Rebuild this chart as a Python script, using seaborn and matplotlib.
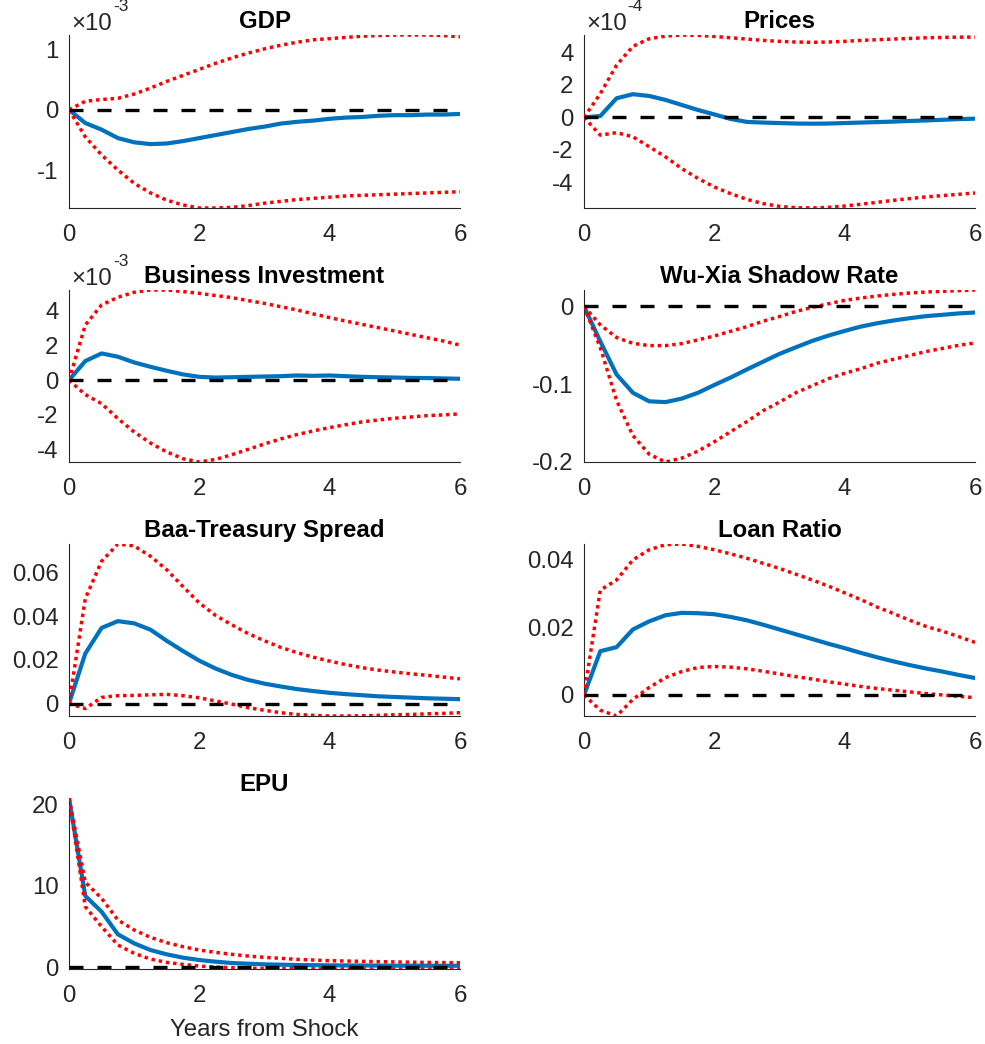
import numpy as np
import pandas as pd
import matplotlib
matplotlib.use("Agg")
import matplotlib.pyplot as plt
from matplotlib.ticker import FixedLocator, FuncFormatter
import seaborn as sns

# Horizon in years (quarterly steps)
years = np.arange(25) * 0.25

# GDP (units of 1e-3)
gdp_scale = 1e-3
gdp_med = [0, -0.22, -0.33, -0.47, -0.54, -0.57, -0.56, -0.52, -0.47, -0.42, -0.37, -0.32,
           -0.28, -0.23, -0.20, -0.18, -0.15, -0.13, -0.12, -0.10, -0.09, -0.09, -0.08, -0.08, -0.07]
gdp_hi = [0, 0.14, 0.17, 0.19, 0.26, 0.36, 0.47, 0.57, 0.67, 0.77, 0.86, 0.94,
          1.01, 1.07, 1.12, 1.16, 1.18, 1.20, 1.22, 1.23, 1.24, 1.24, 1.24, 1.23, 1.21]
gdp_lo = [0, -0.45, -0.75, -1.00, -1.22, -1.38, -1.50, -1.58, -1.63, -1.63, -1.62, -1.59,
          -1.55, -1.52, -1.49, -1.47, -1.45, -1.43, -1.42, -1.41, -1.40, -1.39, -1.38, -1.37, -1.36]

# Prices (units of 1e-4)
prices_scale = 1e-4
prices_med = [0, 0.08, 1.17, 1.42, 1.31, 1.07, 0.76, 0.45, 0.18, -0.10, -0.28, -0.32,
              -0.35, -0.38, -0.39, -0.38, -0.35, -0.32, -0.29, -0.26, -0.22, -0.19, -0.15, -0.11, -0.08]
prices_hi = [0, 1.45, 3.20, 4.35, 4.82, 4.98, 5.05, 5.03, 4.96, 4.88, 4.80, 4.72,
             4.66, 4.62, 4.60, 4.62, 4.66, 4.72, 4.76, 4.80, 4.84, 4.88, 4.90, 4.92, 4.92]
prices_lo = [0, -1.09, -0.94, -1.19, -1.80, -2.42, -3.14, -3.75, -4.27, -4.68, -5.03, -5.29,
             -5.46, -5.54, -5.56, -5.52, -5.44, -5.33, -5.21, -5.09, -4.98, -4.88, -4.80, -4.72, -4.64]

# Business investment (units of 1e-3)
inv_scale = 1e-3
inv_med = [0, 1.10, 1.54, 1.35, 1.02, 0.77, 0.54, 0.33, 0.19, 0.15, 0.17, 0.19,
           0.21, 0.23, 0.27, 0.25, 0.27, 0.23, 0.19, 0.17, 0.15, 0.13, 0.12, 0.10, 0.08]
inv_hi = [0, 3.17, 4.33, 4.77, 5.06, 5.19, 5.19, 5.10, 5.00, 4.87, 4.75, 4.58,
          4.42, 4.23, 4.04, 3.81, 3.60, 3.40, 3.21, 3.02, 2.83, 2.63, 2.44, 2.25, 2.02]
inv_lo = [0, -0.83, -1.35, -2.21, -2.98, -3.62, -4.13, -4.52, -4.71, -4.56, -4.29, -3.98,
          -3.67, -3.38, -3.13, -2.92, -2.73, -2.56, -2.40, -2.29, -2.19, -2.12, -2.04, -2.00, -1.94]

# Wu-Xia shadow rate
wx_med = [0, -0.045, -0.0875, -0.111, -0.122, -0.123, -0.1185, -0.111, -0.101, -0.0914, -0.081, -0.071,
          -0.061, -0.0526, -0.0444, -0.0375, -0.0315, -0.0259, -0.0216, -0.0181, -0.0151, -0.0125,
          -0.0108, -0.009, -0.0078]
wx_hi = [0, -0.0237, -0.040, -0.0474, -0.0504, -0.0504, -0.0478, -0.043, -0.038, -0.032, -0.026, -0.019,
         -0.013, -0.0065, -0.0013, 0.0034, 0.0078, 0.0108, 0.0134, 0.0155, 0.0172, 0.0185, 0.0194,
         0.0203, 0.0211]
wx_lo = [0, -0.053, -0.121, -0.166, -0.190, -0.200, -0.195, -0.186, -0.174, -0.161, -0.148, -0.134,
         -0.123, -0.111, -0.102, -0.093, -0.086, -0.080, -0.073, -0.068, -0.063, -0.058, -0.054,
         -0.050, -0.047]

# Baa-Treasury spread
baa_med = [0, 0.0229, 0.0346, 0.0377, 0.0367, 0.0338, 0.0287, 0.0240, 0.0196, 0.0160, 0.0131, 0.0108,
           0.0091, 0.0078, 0.0066, 0.0057, 0.0049, 0.0043, 0.0038, 0.0033, 0.0030, 0.0027, 0.0024,
           0.0022, 0.0020]
baa_hi = [0, 0.0480, 0.0651, 0.0730, 0.0721, 0.0674, 0.0612, 0.0535, 0.0460, 0.0403, 0.0360, 0.0320,
          0.0287, 0.0257, 0.0233, 0.0212, 0.0194, 0.0178, 0.0164, 0.0153, 0.0144, 0.0136, 0.0129,
          0.0121, 0.0113]
baa_lo = [0, -0.0023, 0.0028, 0.0036, 0.0037, 0.0040, 0.0042, 0.0036, 0.0026, 0.0012, -0.0003, -0.0019,
          -0.0031, -0.0042, -0.0050, -0.0054, -0.0057, -0.0057, -0.0056, -0.0054, -0.0051, -0.0050,
          -0.0047, -0.0045, -0.0042]

# Loan ratio
loan_med = [0, 0.0129, 0.0141, 0.0193, 0.0217, 0.0235, 0.0242, 0.0241, 0.0238, 0.0230, 0.0220, 0.0207,
            0.0193, 0.0179, 0.0165, 0.0151, 0.0138, 0.0124, 0.0111, 0.0099, 0.0088, 0.0078, 0.0069,
            0.0059, 0.0050]
loan_hi = [0, 0.0309, 0.0339, 0.0398, 0.0428, 0.0443, 0.0445, 0.0438, 0.0428, 0.0416, 0.0403, 0.0388,
           0.0373, 0.0356, 0.0339, 0.0321, 0.0301, 0.0281, 0.0259, 0.0240, 0.0220, 0.0202, 0.0188,
           0.0172, 0.0155]
loan_lo = [0, -0.0045, -0.0062, -0.0013, 0.0022, 0.0051, 0.0069, 0.0081, 0.0084, 0.0082, 0.0077, 0.0070,
           0.0062, 0.0054, 0.0047, 0.0039, 0.0032, 0.0025, 0.0019, 0.0014, 0.0009, 0.0004, 0.0000,
           -0.0004, -0.0008]

# Economic policy uncertainty
epu_med = [20.8, 8.77, 6.84, 4.06, 2.95, 2.13, 1.60, 1.19, 0.90, 0.70, 0.53, 0.45,
           0.37, 0.33, 0.29, 0.27, 0.25, 0.24, 0.23, 0.22, 0.21, 0.21, 0.20, 0.20, 0.20]
epu_hi = [20.8, 10.45, 8.48, 5.82, 4.59, 3.69, 3.03, 2.54, 2.13, 1.84, 1.60, 1.39,
          1.23, 1.11, 0.98, 0.90, 0.82, 0.78, 0.74, 0.70, 0.67, 0.64, 0.61, 0.59, 0.57]
epu_lo = [20.8, 7.46, 5.00, 2.75, 1.72, 1.02, 0.61, 0.37, 0.16, 0.04, -0.04, -0.10,
          -0.13, -0.15, -0.17, -0.18, -0.19, -0.19, -0.20, -0.20, -0.20, -0.20, -0.20, -0.20, -0.20]

# name, median, lower, upper, scale, y ticks (in scaled units), exponent label
panels = [
    ("GDP", gdp_med, gdp_lo, gdp_hi, gdp_scale, [-1, 0, 1], "-3"),
    ("Prices", prices_med, prices_lo, prices_hi, prices_scale, [-4, -2, 0, 2, 4], "-4"),
    ("Business Investment", inv_med, inv_lo, inv_hi, inv_scale, [-4, -2, 0, 2, 4], "-3"),
    ("Wu-Xia Shadow Rate", wx_med, wx_lo, wx_hi, 1.0, [-0.2, -0.1, 0], None),
    ("Baa-Treasury Spread", baa_med, baa_lo, baa_hi, 1.0, [0, 0.02, 0.04, 0.06], None),
    ("Loan Ratio", loan_med, loan_lo, loan_hi, 1.0, [0, 0.02, 0.04], None),
    ("EPU", epu_med, epu_lo, epu_hi, 1.0, [0, 10, 20], None),
]

sns.set_style("white")
plt.rcParams["font.family"] = ["Liberation Sans", "DejaVu Sans"]
plt.rcParams["axes.unicode_minus"] = False

INK = "#262626"
BLUE = "#0072BD"
FS = 17.3

W, H = 985, 1044
fig = plt.figure(figsize=(W / 100, H / 100), dpi=100)

col_left = [69, 584]
col_width = 391
row_span = [(35, 208), (290, 462), (544, 716), (798, 969)]

for i, (name, med, lo, hi, scale, ticks, expo) in enumerate(panels):
    r, c = divmod(i, 2)
    top, bot = row_span[r]
    ax = fig.add_axes([col_left[c] / W, 1 - bot / H, col_width / W, (bot - top) / H])

    df = pd.DataFrame({
        "year": years,
        "median": np.asarray(med) * scale,
        "lower": np.asarray(lo) * scale,
        "upper": np.asarray(hi) * scale,
    })

    sns.lineplot(data=df, x="year", y="median", ax=ax, color=BLUE, linewidth=3.0,
                 errorbar=None, zorder=2)
    for band in ("lower", "upper"):
        sns.lineplot(data=df, x="year", y=band, ax=ax, color="red", linewidth=2.5,
                     linestyle=(0, (1, 1.1)), errorbar=None, zorder=3)
    ax.axhline(0, color="black", linewidth=2.4, linestyle=(0, (4.2, 4.2)), zorder=4)

    ymin = min(df[["median", "lower", "upper"]].min())
    ymax = max(df[["median", "lower", "upper"]].max())
    ax.set_xlim(0, 6)
    ax.set_ylim(ymin, ymax)

    ax.xaxis.set_major_locator(FixedLocator([0, 2, 4, 6]))
    ax.yaxis.set_major_locator(FixedLocator([t * scale for t in ticks]))
    ax.yaxis.set_major_formatter(FuncFormatter(lambda v, p, s=scale: f"{v / s:g}"))
    ax.xaxis.set_major_formatter(FuncFormatter(lambda v, p: f"{v:g}"))

    ax.set_xlabel("")
    ax.set_ylabel("")
    ax.set_title(name, fontsize=FS, fontweight="bold", color="black", pad=5)

    for side in ("top", "right"):
        ax.spines[side].set_visible(False)
    for side in ("left", "bottom"):
        ax.spines[side].set_color(INK)
        ax.spines[side].set_linewidth(0.8)
    ax.tick_params(direction="in", length=3, width=0.8, colors=INK, labelsize=FS)
    ax.tick_params(axis="y", pad=7.5)
    ax.tick_params(axis="x", pad=11.5)

    if expo is not None:
        ax.annotate("\u00d710", xy=(0, 1), xycoords="axes fraction",
                    xytext=(2, 3.5), textcoords="offset points",
                    ha="left", va="baseline", fontsize=FS, color=INK)
        ax.annotate(expo, xy=(0, 1), xycoords="axes fraction",
                    xytext=(31.5, 17.0), textcoords="offset points",
                    ha="left", va="baseline", fontsize=12.5, color=INK)

    if name == "EPU":
        ax.set_xlabel("Years from Shock", fontsize=FS, color=INK, labelpad=9)

fig.savefig("out.png", dpi=100, facecolor="white")
